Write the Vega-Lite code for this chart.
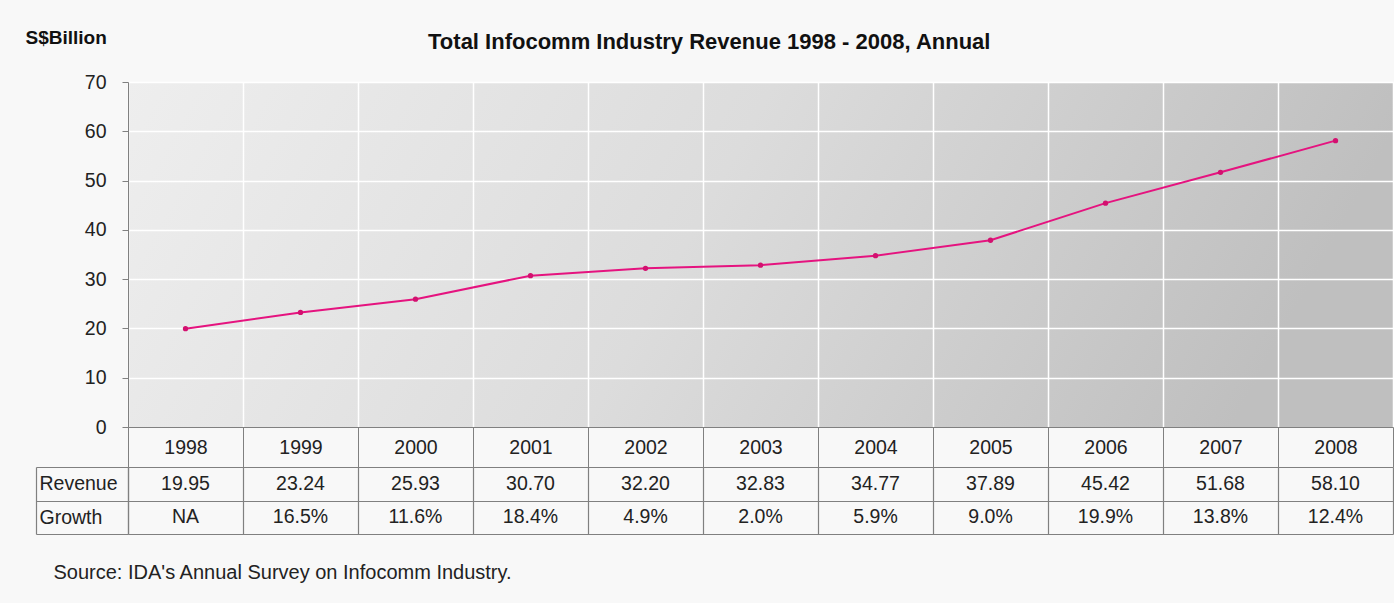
{
  "$schema": "https://vega.github.io/schema/vega-lite/v6.json",
  "background": "#f8f8f8",
  "padding": {"left": 25, "top": 28, "right": 0, "bottom": 22},
  "config": {
    "font": "Liberation Sans",
    "view": {"stroke": null},
    "axis": {"labelColor": "#222222", "labelFontSize": 19.5, "labelFont": "Liberation Sans", "titleFont": "Liberation Sans", "titleColor": "#111111"}
  },
  "title": {"text": "Total Infocomm Industry Revenue 1998 - 2008, Annual", "fontSize": 22, "fontWeight": "bold", "color": "#111111", "anchor": "middle", "offset": -26},
  "datasets": {
    "rev": [
      {"year": 1998, "revenue": 19.95, "growth": "NA"},
      {"year": 1999, "revenue": 23.24, "growth": "16.5%"},
      {"year": 2000, "revenue": 25.93, "growth": "11.6%"},
      {"year": 2001, "revenue": 30.70, "growth": "18.4%"},
      {"year": 2002, "revenue": 32.20, "growth": "4.9%"},
      {"year": 2003, "revenue": 32.83, "growth": "2.0%"},
      {"year": 2004, "revenue": 34.77, "growth": "5.9%"},
      {"year": 2005, "revenue": 37.89, "growth": "9.0%"},
      {"year": 2006, "revenue": 45.42, "growth": "19.9%"},
      {"year": 2007, "revenue": 51.68, "growth": "13.8%"},
      {"year": 2008, "revenue": 58.10, "growth": "12.4%"}
    ]
  },
  "bounds": "flush",
  "spacing": 40,
  "vconcat": [
    {
      "width": 1265,
      "height": 345,
      "view": {"stroke": null, "fill": {"gradient": "linear", "x1": 0, "y1": 0, "x2": 1, "y2": 0.15, "stops": [{"offset": 0, "color": "#eeeeee"}, {"offset": 0.5, "color": "#dcdcdc"}, {"offset": 1, "color": "#bfbfbf"}]}},
      "data": {"name": "rev"},
      "encoding": {
        "x": {"field": "year", "type": "ordinal", "bandPosition": 0.5,
          "scale": {"type": "band", "paddingInner": 0, "paddingOuter": 0},
          "axis": {"title": null, "labelAngle": 0, "tickBand": "extent", "tickSize": 40, "tickColor": "#808080", "tickWidth": 1, "domainColor": "#808080", "domainWidth": 1, "labelPadding": -20, "labelBaseline": "middle", "grid": true, "gridColor": "#ffffff", "gridWidth": 1.5, "labelFontSize": 19.5}},
        "y": {"field": "revenue", "type": "quantitative",
          "scale": {"domain": [0, 70], "nice": false},
          "axis": {"values": [0, 10, 20, 30, 40, 50, 60, 70], "title": "S$Billion", "titleAngle": 0, "titleAlign": "left", "titleBaseline": "middle", "titleX": -103, "titleY": -45, "titleFontSize": 19, "titleFontWeight": "bold", "tickSize": 6, "tickColor": "#808080", "domainColor": "#808080", "labelPadding": 16, "labelBaseline": "middle", "gridColor": {"condition": {"test": "datum.value === 0", "value": "transparent"}, "value": "#ffffff"}, "gridWidth": 1.5}}
      },
      "layer": [
        {"mark": {"type": "line", "color": "#e5137f", "strokeWidth": 2}},
        {"mark": {"type": "point", "filled": true, "color": "#d3106f", "size": 28, "opacity": 1}}
      ]
    },
    {
      "width": 1265,
      "height": 67,
      "data": {"name": "rev"},
      "resolve": {"scale": {"y": "independent"}, "axis": {"y": "independent"}},
      "layer": [
        {
          "mark": {"type": "text", "fontSize": 19.5, "color": "#222222", "baseline": "middle"},
          "encoding": {
            "x": {"field": "year", "type": "ordinal", "bandPosition": 0.5,
              "scale": {"type": "band", "paddingInner": 0, "paddingOuter": 0},
              "axis": {"orient": "bottom", "title": "Source: IDA's Annual Survey on Infocomm Industry.", "titleX": -75, "titleY": 38, "titleAlign": "left", "titleBaseline": "middle", "titleFontSize": 20, "titleFontWeight": "normal", "titleColor": "#222222", "labels": false, "ticks": false, "domain": false, "grid": true, "gridColor": "#808080", "gridWidth": 1.2, "tickBand": "extent"}},
            "y": {"datum": "Revenue", "type": "nominal", "bandPosition": 0.5,
              "scale": {"type": "band", "domain": ["Revenue", "Growth"], "paddingInner": 0, "paddingOuter": 0},
              "axis": {"orient": "left", "title": null, "tickBand": "extent", "tickSize": 92, "tickColor": "#808080", "tickWidth": 1.2, "domainColor": "#808080", "domainWidth": 1.2, "grid": true, "gridColor": "#808080", "gridWidth": 1.2, "labelAlign": "left", "labelPadding": -3, "labelBaseline": "middle", "labelFontSize": 19.5}},
            "text": {"field": "revenue", "type": "quantitative", "format": ".2f"}
          }
        },
        {
          "mark": {"type": "text", "fontSize": 19.5, "color": "#222222", "baseline": "middle"},
          "encoding": {
            "x": {"field": "year", "type": "ordinal", "bandPosition": 0.5},
            "y": {"datum": "Growth", "type": "nominal", "bandPosition": 0.5,
              "scale": {"type": "band", "domain": ["Revenue", "Growth"], "paddingInner": 0, "paddingOuter": 0},
              "axis": {"orient": "left", "offset": 92, "title": null, "labels": false, "ticks": false, "grid": false, "domainColor": "#808080", "domainWidth": 1.2}},
            "text": {"field": "growth", "type": "nominal"}
          }
        }
      ]
    }
  ]
}
